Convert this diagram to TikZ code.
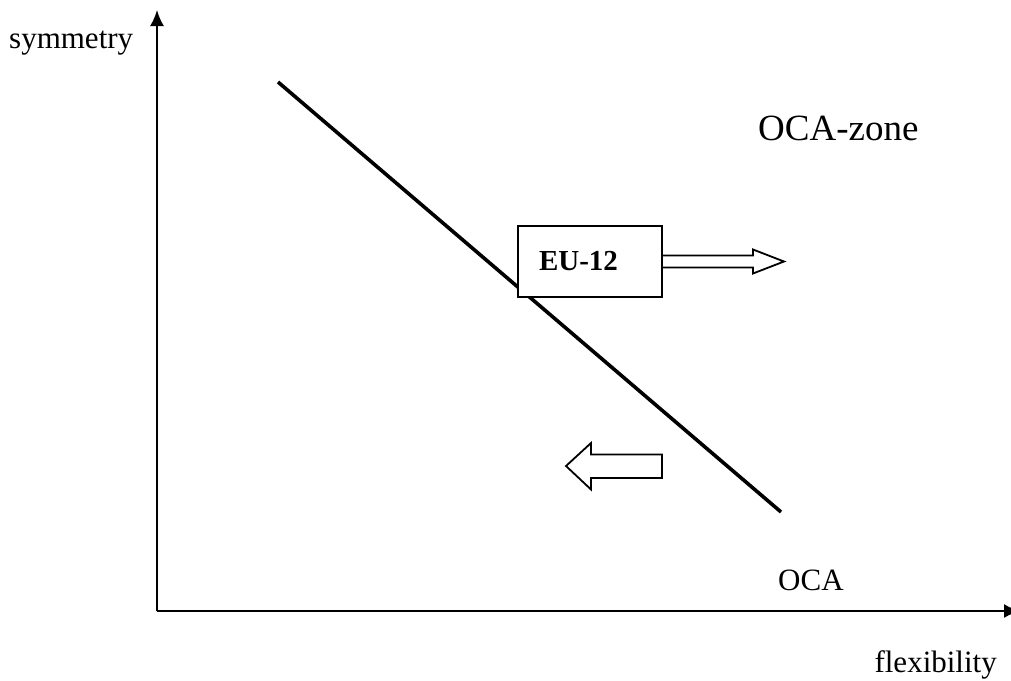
\documentclass[tikz,border=0pt]{standalone}
\usepackage{fontspec}
\setmainfont{Liberation Serif}
\usetikzlibrary{arrows.meta,positioning}

\tikzset{
  axis/.style={line width=2pt, -{Latex[length=16pt,width=14pt]}},
  lbl/.style={font=\fontsize{31}{33}\selectfont, inner sep=0pt},
  zone/.style={font=\fontsize{37}{40}\selectfont, inner sep=0pt},
  grpbox/.style={draw, fill=white, line width=2pt, minimum width=144pt, minimum height=71pt,
    text width=102pt, inner xsep=21pt, align=left, font=\fontsize{29}{30}\selectfont\bfseries},
  blockarrow/.style={draw, fill=white, line width=1.8pt, line join=miter},
}

\begin{document}
\begin{tikzpicture}[x=1pt,y=-1pt]
  \useasboundingbox (0,0) rectangle (1011,680);

  \coordinate (o) at (157,611);
  \coordinate (ytop) at (157,10);
  \coordinate (xend) at (1020,611);
  \coordinate (oca1) at (278,82);
  \coordinate (oca2) at (781,512);

  % axes
  \draw[axis] (o) -- (ytop);
  \draw[axis] (o) -- (xend);
  \node[lbl, anchor=base west] (sym) at (9,48) {symmetry};
  \node[lbl, anchor=base east] (flex) at (997,672) {flexibility};

  % OCA line
  \draw[line width=3.6pt] (oca1) -- (oca2);
  \node[lbl, anchor=base west] (oca) at (778,590) {OCA};
  \node[zone, anchor=base west] (ocazone) at (758,140) {OCA-zone};

  % EU-12 box and arrows
  \node[grpbox] (eu) at (590,261.5) {EU-12};
  \draw[blockarrow] (eu.east) ++(0,-6) -- ++(90,0) -- ++(0,-6) -- ++(31,12)
    -- ++(-31,12) -- ++(0,-6) -- ++(-90,0);
  \coordinate (back) at (662,466);
  \draw[blockarrow] (back) ++(0,-11.5) -- ++(-71,0) -- ++(0,-11.5) -- ++(-25,23)
    -- ++(25,23.5) -- ++(0,-11.5) -- ++(71,0) -- cycle;
\end{tikzpicture}
\end{document}
